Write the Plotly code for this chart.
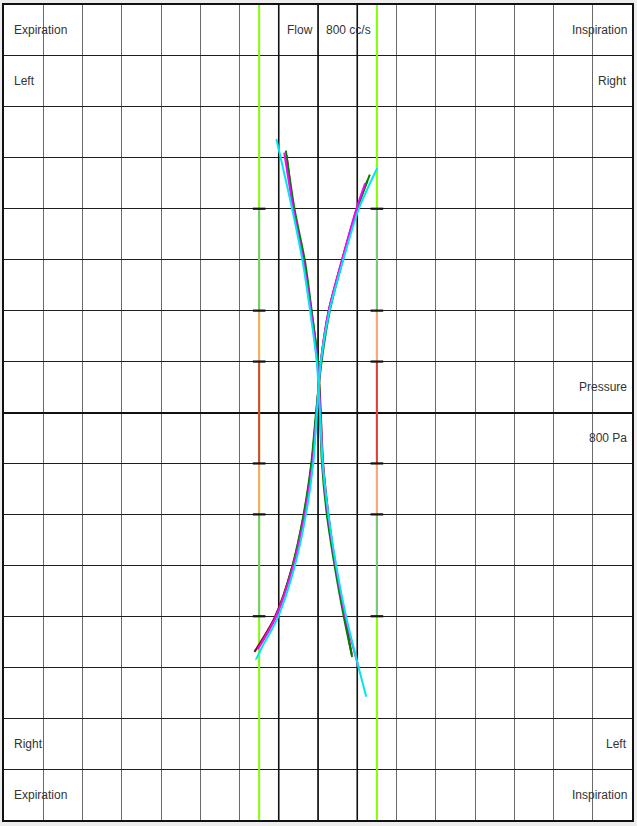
import plotly.graph_objects as go

# ---- data (grid units: 1 cell per division) ----
series_names = ["Trial 1", "Trial 2", "Trial 3", "Trial 4"]
series_colors = ["#8b0000", "#008000", "#ff00ff", "#00e6f0"]

# branch A: from upper-left down to lower-right
a_x = [
    [-0.80, -0.62, -0.36, -0.17, 0.00, 0.07, 0.13, 0.26, 0.45, 0.68, 0.86],
    [-0.82, -0.60, -0.33, -0.16, 0.00, 0.05, 0.10, 0.22, 0.43, 0.66, 0.87],
    [-0.86, -0.63, -0.37, -0.18, -0.02, 0.06, 0.12, 0.25, 0.46, 0.70, 1.04],
    [-1.06, -0.66, -0.39, -0.20, -0.03, 0.05, 0.12, 0.26, 0.47, 0.72, 1.04, 1.23],
]
a_y = [
    [5.05, 4.00, 2.96, 1.99, 0.99, 0.00, -0.99, -1.97, -3.04, -4.02, -4.75],
    [5.14, 4.00, 2.96, 1.99, 0.99, 0.00, -0.99, -1.97, -3.04, -4.02, -4.80],
    [5.10, 4.00, 2.96, 1.99, 0.99, 0.00, -0.99, -1.97, -3.04, -4.02, -5.02],
    [5.37, 4.00, 2.96, 1.99, 0.99, 0.00, -0.99, -1.97, -3.04, -4.02, -5.02, -5.58],
]
# branch B: from upper-right down to lower-left
b_x = [
    [1.26, 0.99, 0.60, 0.27, 0.07, -0.04, -0.16, -0.35, -0.66, -1.10, -1.62],
    [1.32, 1.00, 0.62, 0.30, 0.09, -0.05, -0.17, -0.36, -0.66, -1.08, -1.50],
    [1.20, 0.98, 0.60, 0.27, 0.07, -0.03, -0.14, -0.33, -0.64, -1.08, -1.54],
    [1.51, 1.04, 0.63, 0.29, 0.07, -0.03, -0.12, -0.30, -0.60, -1.02, -1.42, -1.58, -1.48],
]
b_y = [
    [4.55, 4.00, 2.96, 1.99, 0.99, 0.00, -0.99, -1.97, -3.04, -4.02, -4.70],
    [4.67, 4.00, 2.96, 1.99, 0.99, 0.00, -0.99, -1.97, -3.04, -4.02, -4.60],
    [4.50, 4.00, 2.96, 1.99, 0.99, 0.00, -0.99, -1.97, -3.04, -4.02, -4.65],
    [4.80, 4.00, 2.96, 1.99, 0.99, 0.00, -0.99, -1.97, -3.04, -4.02, -4.60, -4.85, -4.70],
]

# reference bars
bar_x = [-1.5, 1.5]
band_lo = [-4, -2, -1, 1, 2]
band_hi = [-2, -1, 1, 2, 4]
band_colors = ["#78c878", "#ffa476", "#e03c3c", "#ffa476", "#78c878"]
tick_levels = [-4, -2, -1, 1, 2, 4]
dark_vlines = [-1, 0, 1]

# labels: (text, x, y, anchor)
labels = [
    ("Expiration", -8, 7.5, "left"), ("Inspiration", 8, 7.5, "right"),
    ("Left", -8, 6.5, "left"), ("Right", 8, 6.5, "right"),
    ("Flow", -1, 7.5, "left"), ("800 cc/s", 0, 7.5, "left"),
    ("Pressure", 8, 0.5, "right"), ("800 Pa", 8, -0.5, "right"),
    ("Right", -8, -6.5, "left"), ("Left", 8, -6.5, "right"),
    ("Expiration", -8, -7.5, "left"), ("Inspiration", 8, -7.5, "right"),
]

fig = go.Figure()

# darker central vertical grid lines
vx, vy = [], []
for v in dark_vlines:
    vx += [v, v, None]
    vy += [-8, 8, None]
fig.add_trace(go.Scatter(x=vx, y=vy, mode="lines",
                         line=dict(color="#111111", width=1.6),
                         hoverinfo="skip", showlegend=False))

# lime full-height bars
lx, ly = [], []
for bx in bar_x:
    lx += [bx, bx, None]
    ly += [-8, 8, None]
fig.add_trace(go.Scatter(x=lx, y=ly, mode="lines",
                         line=dict(color="#80ff00", width=2),
                         hoverinfo="skip", showlegend=False))

# coloured bands on the bars
for lo, hi, c in zip(band_lo, band_hi, band_colors):
    sx, sy = [], []
    for bx in bar_x:
        sx += [bx, bx, None]
        sy += [lo, hi, None]
    fig.add_trace(go.Scatter(x=sx, y=sy, mode="lines",
                             line=dict(color=c, width=2),
                             hoverinfo="skip", showlegend=False))

# tick marks on the bars
tx, ty = [], []
for bx in bar_x:
    for t in tick_levels:
        tx.append(bx)
        ty.append(t)
fig.add_trace(go.Scatter(x=tx, y=ty, mode="markers",
                         marker=dict(symbol="line-ew", size=9,
                                     line=dict(color="#111111", width=2.2)),
                         hoverinfo="skip", showlegend=False))

# loops
for name, col, ax_, ay_, bx_, by_ in zip(series_names, series_colors, a_x, a_y, b_x, b_y):
    fig.add_trace(go.Scatter(x=ax_, y=ay_, mode="lines", name=name,
                             line=dict(color=col, width=2, shape="spline", smoothing=0.8),
                             showlegend=False))
    fig.add_trace(go.Scatter(x=bx_, y=by_, mode="lines", name=name,
                             line=dict(color=col, width=2, shape="spline", smoothing=0.8),
                             showlegend=False))

annotations = []
for text, x, y, anc in labels:
    annotations.append(dict(
        text=text, x=x, y=y, xref="x", yref="y", showarrow=False,
        xanchor=anc, yanchor="middle",
        xshift=(8 if anc == "left" else -3) if x in (-8, 8) else 6,
        font=dict(family="Liberation Sans, Arial, sans-serif", size=12, color="#333333"),
    ))

fig.update_layout(
    width=637, height=826,
    margin=dict(l=4, r=3, t=5, b=6),
    paper_bgcolor="#ededed",
    plot_bgcolor="white",
    showlegend=False,
    annotations=annotations,
    xaxis=dict(range=[-8, 8], dtick=1, tick0=0, showgrid=True,
               gridcolor="#6a6a6a", gridwidth=1, zeroline=False,
               showticklabels=False, ticks="", showline=True, mirror=True,
               linecolor="#111111", linewidth=2, fixedrange=True),
    yaxis=dict(range=[-8, 8], dtick=1, tick0=0, showgrid=True,
               gridcolor="#1e1e1e", gridwidth=1, zeroline=True,
               zerolinecolor="#111111", zerolinewidth=2,
               showticklabels=False, ticks="", showline=True, mirror=True,
               linecolor="#111111", linewidth=2, fixedrange=True),
)

fig.write_html("out.html",
               config={"displayModeBar": False},
               post_script="document.body.style.margin='0px';document.body.style.overflow='hidden';")
